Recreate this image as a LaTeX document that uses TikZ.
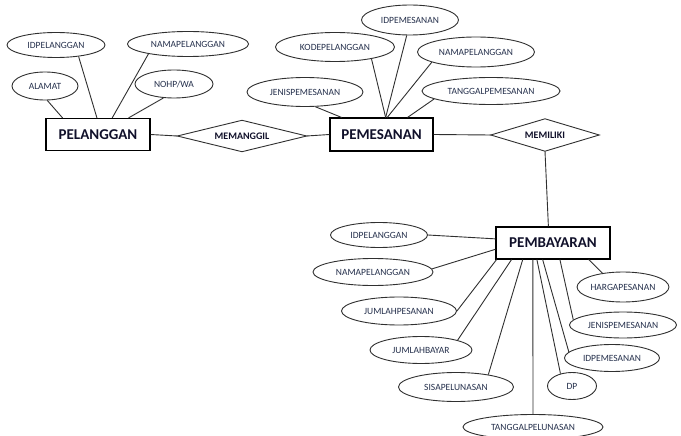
\documentclass[tikz,border=0pt]{standalone}
\usepackage{fontspec}
\setmainfont{Carlito}
\usetikzlibrary{shapes.geometric,calc}
\definecolor{txtsmall}{HTML}{26314D}
\definecolor{txtbig}{HTML}{10102A}
\definecolor{edgec}{HTML}{303030}
\begin{document}
\begin{tikzpicture}[x=1pt,y=-1pt,
 ent/.style={draw=black,line width=1.1pt,rectangle,inner sep=0pt,font=\fontsize{15}{18}\selectfont\bfseries,text=txtbig},
 attr/.style={draw=edgec,line width=0.9pt,ellipse,inner sep=0pt,font=\fontsize{9.5}{11}\selectfont,text=txtsmall},
 rel/.style={rectangle,inner sep=0pt,font=\fontsize{10}{12}\selectfont\bfseries,text=txtbig},
 relborder/.style={draw=edgec,line width=0.9pt},
 lnk/.style={draw=edgec,line width=0.9pt}]
\useasboundingbox (0,0) rectangle (681,436);
\fill[white] (0,0) rectangle (681,436);

% entities
\node[ent,minimum width=104pt,minimum height=32pt] (pel) at (98,134.5) {PELANGGAN};
\node[ent,minimum width=103pt,minimum height=33pt] (pms) at (381.5,134.5) {PEMESANAN};
\node[ent,minimum width=114pt,minimum height=32pt] (pby) at (553,243) {PEMBAYARAN};

% relations (diamonds drawn through the node's side anchors)
\node[rel,minimum width=129pt,minimum height=31pt] (mg) at (242,136) {MEMANGGIL};
\node[rel,minimum width=108pt,minimum height=32pt] (ml) at (545,135) {MEMILIKI};
\draw[relborder] (mg.west) -- (mg.north) -- (mg.east) -- (mg.south) -- cycle;
\draw[relborder] (ml.west) -- (ml.north) -- (ml.east) -- (ml.south) -- cycle;

% attributes of PELANGGAN
\node[attr,minimum width=98pt,minimum height=25pt] (a1) at (56,45) {IDPELANGGAN};
\node[attr,minimum width=121pt,minimum height=25pt] (a2) at (188,44) {NAMAPELANGGAN};
\node[attr,minimum width=66pt,minimum height=28pt] (a3) at (45,86) {ALAMAT};
\node[attr,minimum width=78pt,minimum height=28pt] (a4) at (174,84) {NOHP/WA};

% attributes of PEMESANAN
\node[attr,minimum width=97pt,minimum height=30pt] (b1) at (410,20) {IDPEMESANAN};
\node[attr,minimum width=119pt,minimum height=29pt] (b2) at (335,47) {KODEPELANGGAN};
\node[attr,minimum width=117pt,minimum height=30pt] (b3) at (476,52) {NAMAPELANGGAN};
\node[attr,minimum width=116pt,minimum height=29pt] (b4) at (305,92) {JENISPEMESANAN};
\node[attr,minimum width=138pt,minimum height=27pt] (b5) at (491,91) {TANGGALPEMESANAN};

% attributes of PEMBAYARAN
\node[attr,minimum width=97pt,minimum height=25pt] (c1) at (379,235) {IDPELANGGAN};
\node[attr,minimum width=120pt,minimum height=27pt] (c2) at (373,272) {NAMAPELANGGAN};
\node[attr,minimum width=115pt,minimum height=28pt] (c3) at (399,311) {JUMLAHPESANAN};
\node[attr,minimum width=102pt,minimum height=27pt] (c4) at (421,350) {JUMLAHBAYAR};
\node[attr,minimum width=115pt,minimum height=29pt] (c5) at (456,387) {SISAPELUNASAN};
\node[attr,minimum width=140pt,minimum height=25pt] (c6) at (533,427) {TANGGALPELUNASAN};
\node[attr,minimum width=49pt,minimum height=27pt] (c7) at (572,386) {DP};
\node[attr,minimum width=95pt,minimum height=27pt] (c8) at (612,358) {IDPEMESANAN};
\node[attr,minimum width=107pt,minimum height=26pt] (c9) at (623,325) {JENISPEMESANAN};
\node[attr,minimum width=90pt,minimum height=30pt] (c10) at (623,287) {HARGAPESANAN};

% relationship links
\draw[lnk] (pel.east) -- (mg.west);
\draw[lnk] (mg.east) -- (pms.west);
\draw[lnk] (pms.east) -- (ml.west);
\draw[lnk] (ml.south) -- ($(pby.north west)!.46!(pby.north east)$);

% PELANGGAN attribute links
\draw[lnk] (a3.-81) -- ($(pel.north west)!.163!(pel.north east)$);
\draw[lnk] (a1.-27) -- ($(pel.north west)!.49!(pel.north east)$);
\draw[lnk] (a2.-166) -- ($(pel.north west)!.635!(pel.north east)$);
\draw[lnk] (a4.-127) -- ($(pel.north west)!.79!(pel.north east)$);

% PEMESANAN attribute links
\draw[lnk] (b2.-18) -- ($(pms.north west)!.54!(pms.north east)$);
\draw[lnk] (b1.-102) -- ($(pms.north west)!.54!(pms.north east)$);
\draw[lnk] (b3.-167) -- ($(pms.north west)!.555!(pms.north east)$);
\draw[lnk] (b4.-55) -- ($(pms.north west)!.117!(pms.north east)$);
\draw[lnk] (b5.-172) -- ($(pms.north west)!.75!(pms.north east)$);

% PEMBAYARAN attribute links
\draw[lnk] (c1.0) -- ($(pby.north west)!.375!(pby.south west)$);
\draw[lnk] (c2.3) -- ($(pby.north west)!.69!(pby.south west)$);
\draw[lnk] (c3.0) -- ($(pby.south west)!.01!(pby.south east)$);
\draw[lnk] (c4.15) -- ($(pby.south west)!.14!(pby.south east)$);
\draw[lnk] (c5.21) -- ($(pby.south west)!.237!(pby.south east)$);
\draw[lnk] (c6.north) -- ($(pby.south west)!.325!(pby.south east)$);
\draw[lnk] (c7.133) -- ($(pby.south west)!.36!(pby.south east)$);
\draw[lnk] (c8.172) -- ($(pby.south west)!.41!(pby.south east)$);
\draw[lnk] (c9.174) -- ($(pby.south west)!.56!(pby.south east)$);
\draw[lnk] (c10.146) -- ($(pby.south west)!.81!(pby.south east)$);
\end{tikzpicture}
\end{document}
